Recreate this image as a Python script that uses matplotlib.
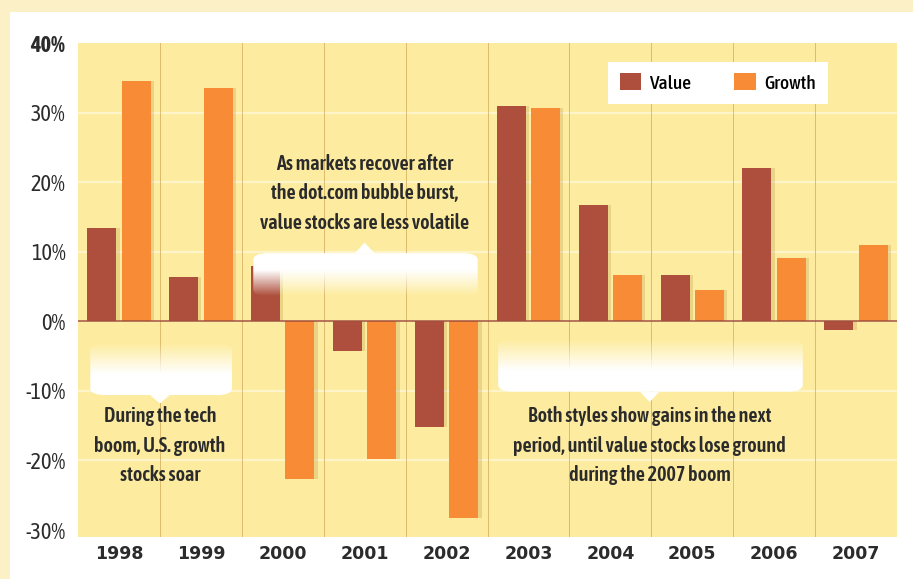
import numpy as np
import matplotlib
matplotlib.use("Agg")
from matplotlib import pyplot as plt
from matplotlib.patches import FancyBboxPatch, Polygon, Rectangle

# chart data (annual returns, %)
years = ["1998", "1999", "2000", "2001", "2002",
         "2003", "2004", "2005", "2006", "2007"]
value = [13.4, 6.4, 7.9, -4.3, -15.2, 30.9, 16.7, 6.6, 22.1, -1.3]
growth = [34.5, 33.6, -22.7, -19.8, -28.2, 30.6, 6.6, 4.5, 9.1, 10.9]
y_ticks = [-30, -20, -10, 0, 10, 20, 30, 40]

VALUE_COLOR = "#ad4f3c"
GROWTH_COLOR = "#f88b35"
PLOT_BG = "#fdec9f"
OUTER_BG = "#fcf1c6"
TEXT_COLOR = "#2b2b2b"
NARROW = ["Asap Condensed", "DejaVu Sans"]

fig = plt.figure(figsize=(9.13, 5.79), dpi=100)
fig.patch.set_facecolor(OUTER_BG)
# white panel behind the chart
fig.patches.append(Rectangle((10 / 913, 0), 1, 1 - 12 / 579,
                             transform=fig.transFigure,
                             facecolor="white", edgecolor="none", zorder=-10))

ax = fig.add_axes([78 / 913, 1 - 537 / 579, 819 / 913, 494 / 579])
ax.set_facecolor(PLOT_BG)
ax.set_xlim(-0.5, len(years) - 0.5)
ax.set_ylim(-31, 40)

x = np.arange(len(years))
bar_w = 0.355

# faint white horizontal gridlines
for t in y_ticks[1:-1]:
    ax.axhline(t, color="white", lw=1.6, alpha=0.45, zorder=1)

# year separators
for b in x[:-1] + 0.5:
    ax.axvline(b, color="#c89a4a", lw=0.7, alpha=0.6, zorder=1)

# subtle drop shadow under bars
ax.bar(x - 0.21 + 0.04, value, bar_w, color="#b48a3a", alpha=0.25, zorder=2)
ax.bar(x + 0.21 + 0.04, growth, bar_w, color="#b48a3a", alpha=0.25, zorder=2)

ax.bar(x - 0.21, value, bar_w, color=VALUE_COLOR, label="Value", zorder=3)
ax.bar(x + 0.21, growth, bar_w, color=GROWTH_COLOR, label="Growth", zorder=3)

ax.axhline(0, color="#a3503a", lw=1.1, zorder=4)


def brace(x0, x1, y0, y1, tip_x, tip_y, fade_down):
    """White callout band with a small pointer, fading toward the zero line."""
    box = FancyBboxPatch((x0, y0), x1 - x0, y1 - y0,
                         boxstyle="round,pad=0,rounding_size=0.18",
                         mutation_aspect=5.5,
                         facecolor="none", edgecolor="none", zorder=5)
    ax.add_patch(box)
    grad = np.linspace(0, 1, 100)
    if fade_down:
        alpha = np.clip(grad * 1.7, 0, 1)
    else:
        alpha = np.clip(grad[::-1] * 1.7, 0, 1)
    img = np.ones((100, 2, 4))
    img[:, :, 3] = alpha[:, None]
    im = ax.imshow(img, extent=(x0, x1, y0, y1), origin="lower",
                   aspect="auto", zorder=5, interpolation="bilinear")
    im.set_clip_path(box)
    base = y1 if tip_y > y1 else y0
    tip = Polygon([(tip_x - 0.12, base), (tip_x + 0.12, base), (tip_x, tip_y)],
                  closed=True, facecolor="white", edgecolor="none", zorder=5)
    ax.add_patch(tip)


brace(1.64, 4.38, 3.6, 9.8, 3.0, 11.3, fade_down=True)
brace(-0.35, 1.38, -10.6, -3.2, 0.5, -11.8, fade_down=False)
brace(4.63, 8.35, -10.1, -2.6, 6.48, -11.6, fade_down=False)

note_kw = dict(ha="center", va="center", fontsize=14.5, fontweight=600,
               color=TEXT_COLOR, family=NARROW, linespacing=1.6, zorder=6)
ax.text(3.0, 18.4, "As markets recover after\nthe dot.com bubble burst,\n"
        "value stocks are less volatile", **note_kw)
ax.text(0.5, -17.9, "During the tech\nboom, U.S. growth\nstocks soar", **note_kw)
ax.text(6.48, -17.9, "Both styles show gains in the next\n"
        "period, until value stocks lose ground\nduring the 2007 boom", **note_kw)

ax.set_yticks(y_ticks)
ax.set_yticklabels([f"{t}%" for t in y_ticks], family=NARROW, fontsize=16,
                   color=TEXT_COLOR)
ax.get_yticklabels()[-1].set_fontweight("bold")
ax.set_xticks(x)
ax.set_xticklabels(years, fontsize=12.5, fontweight="bold", color=TEXT_COLOR)
ax.tick_params(axis="both", length=0)
ax.tick_params(axis="y", pad=9)
ax.tick_params(axis="x", pad=6)
for s in ax.spines.values():
    s.set_visible(False)

leg = ax.legend(loc="upper left", bbox_to_anchor=(0.647, 0.962), ncol=2,
                frameon=True, fancybox=False, borderaxespad=0,
                handlelength=1.1, handleheight=0.95, handletextpad=0.45,
                columnspacing=2.2, borderpad=0.6,
                prop={"family": NARROW, "size": 14, "weight": 500})
leg.get_frame().set_facecolor("white")
leg.get_frame().set_edgecolor("none")
leg.get_frame().set_alpha(1)
leg.set_zorder(7)

fig.savefig("out.png", dpi=100, facecolor=fig.get_facecolor())
